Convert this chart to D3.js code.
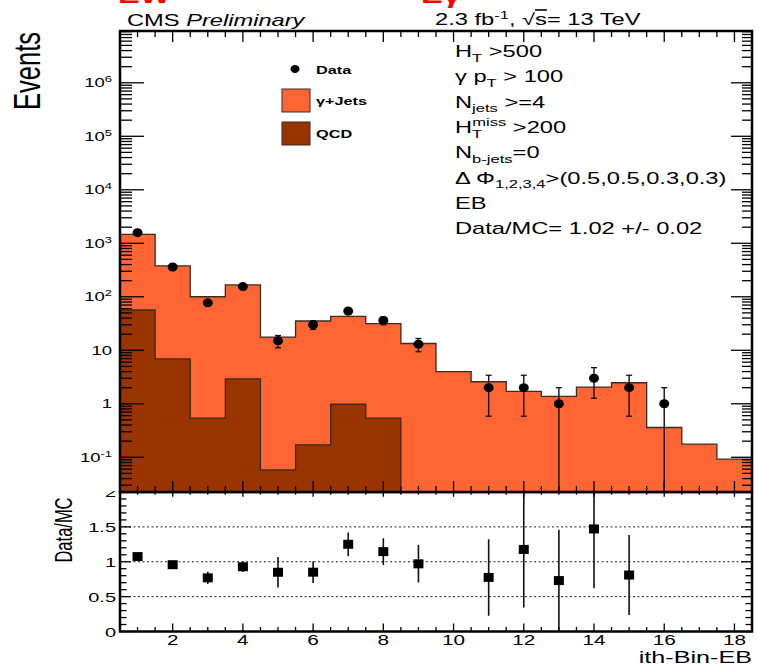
<!DOCTYPE html>
<html>
<head>
<meta charset="utf-8">
<script src="https://cdn.jsdelivr.net/npm/d3@7"></script>
<style>
  html, body { margin: 0; padding: 0; background: #fff; }
  svg { display: block; font-family: "Liberation Sans", Arial, Helvetica, sans-serif; }
</style>
</head>
<body>
<svg id="chart" width="759" height="670"></svg>
<script>
// ---- bin contents (ith-Bin-EB, bins centred on 1..18) ----
const bins = [1, 2, 3, 4, 5, 6, 7, 8, 9, 10, 11, 12, 13, 14, 15, 16, 17, 18];
const gammaJets = [1413, 370, 99.5, 164, 17.6, 35.1, 42.2, 30.9, 13.4, 4.0, 2.58, 1.70, 1.37, 2.04, 2.47, 0.36, 0.176, 0.092];
const qcd = [56.6, 6.9, 0.54, 2.93, 0.058, 0.171, 0.98, 0.54, 0, 0, 0, 0, 0, 0, 0, 0, 0, 0];
const data = [1578, 361, 77, 155, 15, 30, 54, 36, 13, 0, 2, 2, 1, 3, 2, 1, 0, 0];

// axis labelling
const xTickLabels = [2, 4, 6, 8, 10, 12, 14, 16, 18];
const logLabelExps = [-1, 0, 1, 2, 3, 4, 5, 6];
const ratioTickLabels = ["0", "0.5", "1", "1.5", "2"];
const ratioGrid = [0.5, 1, 1.5];
const cutLines = [
  [["H"], ["T", "sub"], [" >500"]],
  [["\u03b3 p"], ["T", "sub"], [" > 100"]],
  [["N"], ["jets", "sub"], [" >=4"]],
  [["H"], ["T", "sub"], ["miss", "supback"], [" >200", "back"]],
  [["N"], ["b-jets", "sub"], ["=0"]],
  [["\u0394 \u03a6"], ["1,2,3,4", "sub"], [">(0.5,0.5,0.3,0.3)"]],
  [["EB"]],
  [["Data/MC= 1.02 +/- 0.02"]]
];

const COL_GJ = "#ff6633", COL_QCD = "#993300", COL_LINE = "#3a2a20";
const SX = 1.48;  // horizontal stretch of the lettering

const svg = d3.select("#chart");

// ---- geometry ----
const L = 120, R = 752;
const T1 = 31, B1 = 492;      // main pad
const T2 = 492, B2 = 631.5;   // ratio pad

const x = d3.scaleLinear().domain([0.5, 18.5]).range([L, R]);
const y = d3.scaleLog().domain([0.02244, 9.29e6]).range([B1, T1]);
const yr = d3.scaleLinear().domain([0, 2]).range([B2, T2]);
const total = gammaJets.map((v, i) => v + qcd[i]);

// text helper: parts = [[string, mode], ...]
function label(g, px, py, parts, size, opts = {}) {
  const t = g.append("text")
    .attr("transform", `translate(${px},${py}) scale(${SX},1)` + (opts.rotate ? ` rotate(${opts.rotate})` : ""))
    .attr("font-size", size)
    .attr("fill", opts.fill || "#000")
    .attr("text-anchor", opts.anchor || "start")
    .attr("font-weight", opts.weight || "normal");
  let shift = 0;
  let lastSubWidth = 0;
  parts.forEach(([s, mode]) => {
    const sp = t.append("tspan").text(s);
    const small = size * 0.7;
    if (mode === "sub") {
      sp.attr("font-size", small).attr("dy", size * 0.3 - shift);
      shift = size * 0.3;
      lastSubWidth = s.length * small * 0.6;
    } else if (mode === "sup") {
      sp.attr("font-size", small).attr("dy", -size * 0.4 - shift);
      shift = -size * 0.4;
    } else if (mode === "supback") {
      sp.attr("font-size", small).attr("dy", -size * 0.45 - shift).attr("dx", -lastSubWidth);
      shift = -size * 0.45;
    } else if (mode === "italic") {
      sp.attr("font-style", "italic").attr("dy", -shift); shift = 0;
    } else if (mode === "overline") {
      sp.attr("text-decoration", "overline").attr("dy", -shift); shift = 0;
    } else {
      sp.attr("dy", -shift); shift = 0;
    }
  });
  return t;
}

// =================== ratio pad ===================
const gR = svg.append("g");
svg.append("defs").append("clipPath").attr("id", "clipR")
  .append("rect").attr("x", L).attr("y", T2).attr("width", R - L).attr("height", B2 - T2);

gR.selectAll("line.grid").data(ratioGrid).join("line")
  .attr("x1", L).attr("x2", R).attr("y1", d => yr(d)).attr("y2", d => yr(d))
  .attr("stroke", "#222").attr("stroke-width", 1).attr("stroke-dasharray", "2,2.5");

const ratioPts = bins.map((b, i) => ({
  b, r: total[i] > 0 ? data[i] / total[i] : 0,
  e: total[i] > 0 ? Math.sqrt(data[i]) / total[i] : 0, n: data[i]
})).filter(d => d.n > 0 && d.r <= 2);

const gRp = gR.append("g").attr("clip-path", "url(#clipR)");
gRp.selectAll("line.err").data(ratioPts).join("line")
  .attr("x1", d => x(d.b)).attr("x2", d => x(d.b))
  .attr("y1", d => yr(Math.max(0, d.r - d.e))).attr("y2", d => yr(d.r + d.e))
  .attr("stroke", "#111").attr("stroke-width", 1.6);
gRp.selectAll("rect.pt").data(ratioPts).join("rect")
  .attr("x", d => x(d.b) - 5).attr("y", d => yr(d.r) - 4.5)
  .attr("width", 10).attr("height", 9).attr("fill", "#000");

// ratio y ticks
for (let v = 0; v <= 2.0001; v += 0.1) {
  const major = Math.abs(v * 2 - Math.round(v * 2)) < 1e-6;
  const len = major ? 11 : 6.5;
  gR.append("line").attr("x1", L).attr("x2", L + len).attr("y1", yr(v)).attr("y2", yr(v))
    .attr("stroke", "#000").attr("stroke-width", 1.3);
  gR.append("line").attr("x1", R).attr("x2", R - len).attr("y1", yr(v)).attr("y2", yr(v))
    .attr("stroke", "#000").attr("stroke-width", 1.3);
}
ratioTickLabels.forEach(s => {
  label(gR, 116, yr(+s) + 5, [[s]], 13.5, { anchor: "end" });
});
// ratio x ticks
for (let v = 0.5; v <= 18.5001; v += 0.5) {
  const major = Math.abs(v % 2) < 1e-6;
  const len = major ? 8 : 4.5;
  gR.append("line").attr("x1", x(v)).attr("x2", x(v)).attr("y1", B2).attr("y2", B2 - len)
    .attr("stroke", "#000").attr("stroke-width", 1.3);
  gR.append("line").attr("x1", x(v)).attr("x2", x(v)).attr("y1", T2).attr("y2", T2 + len * 0.6)
    .attr("stroke", "#000").attr("stroke-width", 1.3);
}
xTickLabels.forEach(v => {
  label(gR, x(v), 645, [[String(v)]], 14, { anchor: "middle" });
});
gR.append("rect").attr("x", L).attr("y", T2).attr("width", R - L).attr("height", B2 - T2)
  .attr("fill", "none").attr("stroke", "#000").attr("stroke-width", 2.5);

label(gR, 72, 530, [["Data/MC"]], 16.5, { anchor: "middle", rotate: -90 });
label(gR, R, 663, [["ith-Bin-EB"]], 17, { anchor: "end" });

// =================== main pad ===================
svg.append("rect").attr("x", 0).attr("y", 0).attr("width", 759).attr("height", 491).attr("fill", "#fff");
const gM = svg.append("g");
svg.select("defs").append("clipPath").attr("id", "clipM")
  .append("rect").attr("x", L).attr("y", T1).attr("width", R - L).attr("height", B1 - T1);

const yMin = y.domain()[0];
function stepPoints(vals) {
  const pts = [];
  vals.forEach((v, i) => {
    const vv = v > yMin ? v : yMin * 0.5;
    pts.push([bins[i] - 0.5, vv], [bins[i] + 0.5, vv]);
  });
  return pts;
}
const area = d3.area().x(d => x(d[0])).y0(B1 + 5).y1(d => Math.min(B1 + 5, y(d[1])));
const line = d3.line().x(d => x(d[0])).y(d => Math.min(B1 + 5, y(d[1])));

const gH = gM.append("g").attr("clip-path", "url(#clipM)");
const totPts = stepPoints(total);
const qcdPts = stepPoints(qcd);
gH.append("path").attr("d", area(totPts)).attr("fill", COL_GJ);
gH.append("path").attr("d", line(totPts)).attr("fill", "none").attr("stroke", COL_LINE).attr("stroke-width", 1.3);
gH.append("path").attr("d", area(qcdPts)).attr("fill", COL_QCD);
gH.append("path").attr("d", line(qcdPts)).attr("fill", "none").attr("stroke", COL_LINE).attr("stroke-width", 1.3);

// data points with Poisson errors
const dataPts = bins.map((b, i) => ({ b, n: data[i], e: Math.sqrt(data[i]) })).filter(d => d.n > 0);
const yc = v => (v > yMin ? y(v) : B1 + 5);
dataPts.forEach(d => {
  const lo = yc(d.n - d.e), hi = yc(d.n + d.e), cx = x(d.b);
  gH.append("line").attr("x1", cx).attr("x2", cx).attr("y1", lo).attr("y2", hi)
    .attr("stroke", "#111").attr("stroke-width", 1.4);
  [lo, hi].forEach(yy => {
    if (yy < B1) gH.append("line").attr("x1", cx - 3).attr("x2", cx + 3).attr("y1", yy).attr("y2", yy)
      .attr("stroke", "#111").attr("stroke-width", 1.3);
  });
  gH.append("ellipse").attr("cx", cx).attr("cy", y(d.n)).attr("rx", 5).attr("ry", 4.5).attr("fill", "#000");
});

// log y ticks
for (let k = -2; k <= 7; k++) {
  for (let m = 1; m <= 9; m++) {
    const v = m * Math.pow(10, k);
    if (v < y.domain()[0] || v > y.domain()[1]) continue;
    const major = m === 1;
    gM.append("line").attr("x1", L).attr("x2", L + (major ? 24 : 12)).attr("y1", y(v)).attr("y2", y(v))
      .attr("stroke", "#000").attr("stroke-width", 1.3);
    gM.append("line").attr("x1", R).attr("x2", R - (major ? 21 : 10)).attr("y1", y(v)).attr("y2", y(v))
      .attr("stroke", "#000").attr("stroke-width", 1.3);
  }
}
logLabelExps.forEach(k => {
  const parts = k === 0 ? [["1"]] : k === 1 ? [["10"]] : [["10"], [String(k), "sup"]];
  label(gM, 112, y(Math.pow(10, k)) + 4.5, parts, 12.5, { anchor: "end" });
});
// x ticks on the main pad
for (let v = 0.5; v <= 18.5001; v += 0.5) {
  const major = Math.abs(v % 2) < 1e-6;
  const len = major ? 11 : 6;
  gM.append("line").attr("x1", x(v)).attr("x2", x(v)).attr("y1", B1).attr("y2", B1 - len)
    .attr("stroke", "#000").attr("stroke-width", 1.3);
  gM.append("line").attr("x1", x(v)).attr("x2", x(v)).attr("y1", T1).attr("y2", T1 + len)
    .attr("stroke", "#000").attr("stroke-width", 1.3);
}
gM.append("rect").attr("x", L).attr("y", T1).attr("width", R - L).attr("height", B1 - T1)
  .attr("fill", "none").attr("stroke", "#000").attr("stroke-width", 2.5);

label(gM, 40, 71, [["Events"]], 25.5, { anchor: "middle", rotate: -90 });

// legend
const gL = gM.append("g");
gL.append("ellipse").attr("cx", 295).attr("cy", 69).attr("rx", 4.5).attr("ry", 4).attr("fill", "#000");
label(gL, 316, 74, [["Data"]], 11, { weight: "bold" });
gL.append("rect").attr("x", 282).attr("y", 89).attr("width", 28).attr("height", 23)
  .attr("fill", COL_GJ).attr("stroke", COL_LINE).attr("stroke-width", 1);
label(gL, 316, 105, [["\u03b3+Jets"]], 11, { weight: "bold" });
gL.append("rect").attr("x", 282).attr("y", 122).attr("width", 28).attr("height", 23)
  .attr("fill", COL_QCD).attr("stroke", COL_LINE).attr("stroke-width", 1);
label(gL, 316, 138, [["QCD"]], 11, { weight: "bold" });

// selection text
cutLines.forEach((parts, i) => {
  label(gM, 455, 57 + i * 25.3, parts, 16);
});

// header
label(svg, 127, 26, [["CMS "], ["Preliminary", "italic"]], 16);
label(svg, 435, 25, [["2.3 fb"], ["-1", "sup"], [", \u221a"], ["s", "overline"], ["= 13 TeV"]], 16);
// red headings sitting mostly above the top edge of the page
label(svg, 118, 3, [["EW"]], 22, { fill: "#ff0000", weight: "bold" });
label(svg, 421, 3, [["E\u03b3"]], 22, { fill: "#ff0000", weight: "bold" });
</script>
</body>
</html>
